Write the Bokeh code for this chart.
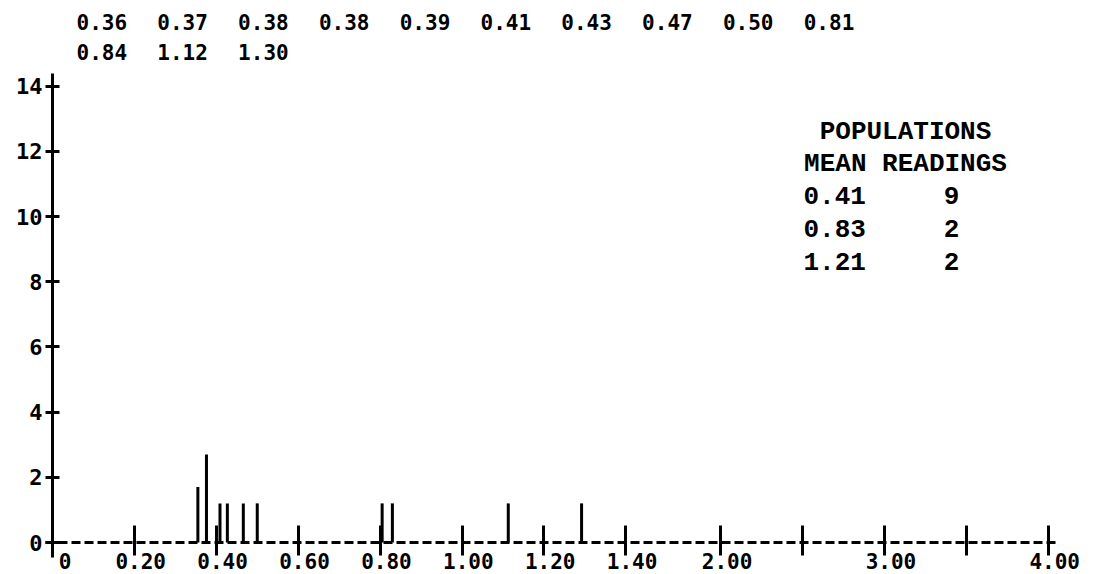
from bokeh.plotting import figure
from bokeh.models import Range1d, FixedTicker
from bokeh.core.properties import value
from bokeh.embed import file_html
from bokeh.resources import INLINE

# ---- data ----
readings = [0.36, 0.37, 0.38, 0.38, 0.39, 0.41, 0.43, 0.47, 0.50, 0.81, 0.84, 1.12, 1.30]
bar_x = [0.355, 0.376, 0.409, 0.427, 0.466, 0.50, 0.805, 0.83, 1.113, 1.292]
bar_h = [1.7, 2.7, 1.2, 1.2, 1.2, 1.2, 1.2, 1.2, 1.2, 1.2]
x_tick_values = [0, 0.2, 0.4, 0.6, 0.8, 1.0, 1.2, 1.4, 2.0, 2.5, 3.0, 3.5, 4.0]
x_tick_labels = ["0", "0.20", "0.40", "0.60", "0.80", "1.00", "1.20", "1.40", "2.00", "", "3.00", "", "4.00"]
y_tick_values = [0, 2, 4, 6, 8, 10, 12, 14]
pop_means = ["0.41", "0.83", "1.21"]
pop_counts = ["9", "2", "2"]

# piecewise (broken) x scale of the original printout
def xpos(v):
    if v <= 1.4:
        return v / 0.2
    if v < 2.0:
        return 7 + (v - 1.4) / 0.6 * 1.16
    return 8.16 + (v - 2.0) / 0.5

# layout helpers (canvas pixel -> data units)
XPX, X0 = 81.9, 52
YPX, Y0 = 32.6, 542
def dx(px):
    return (px - X0) / XPX
def dy(py):
    return (Y0 - py) / YPX

W, H = 1103, 574
p = figure(width=W, height=H, output_backend="svg", toolbar_location=None,
           x_range=Range1d(dx(0), dx(W)), y_range=Range1d(dy(H), dy(0)),
           min_border_left=0, min_border_right=0, min_border_top=0, min_border_bottom=0)
p.grid.visible = False
p.outline_line_color = None
p.background_fill_color = "white"
p.border_fill_color = "white"

MONO = value("DejaVu Sans Mono")

# x axis (dashed, typewriter style)
xa = p.xaxis[0]
xa.fixed_location = 0
xt = [round(xpos(v), 4) for v in x_tick_values]
xa.ticker = FixedTicker(ticks=xt)
ov = {}
for t, lab in zip(xt, x_tick_labels):
    if lab == "0":
        ov[t] = "\u00a0\u00a00"
    elif lab:
        ov[t] = "\u00a0" + lab
    else:
        ov[t] = ""
xa.major_label_overrides = ov
xa.bounds = (dx(45), dx(1056))
xa.axis_line_dash = "9 4"
xa.axis_line_width = 3
xa.axis_line_color = "black"
xa.major_tick_in = 17
xa.major_tick_out = 13
xa.major_tick_line_width = 3
xa.major_tick_line_color = "black"
xa.minor_tick_line_color = None
xa.major_label_standoff = -6
xa.major_label_text_font = "DejaVu Sans Mono"
xa.major_label_text_font_size = "21px"
xa.major_label_text_font_style = "bold"
xa.major_label_text_color = "black"

# y axis
ya = p.yaxis[0]
ya.fixed_location = 0
ya.ticker = FixedTicker(ticks=y_tick_values)
ya.bounds = (dy(557), dy(73))
ya.axis_line_width = 3
ya.axis_line_color = "black"
ya.major_tick_in = 7
ya.major_tick_out = 7
ya.major_tick_line_width = 3
ya.major_tick_line_color = "black"
ya.minor_tick_line_color = None
ya.major_label_standoff = 3
ya.major_label_text_font = "DejaVu Sans Mono"
ya.major_label_text_font_size = "22px"
ya.major_label_text_font_style = "bold"
ya.major_label_text_color = "black"

# bars (spikes)
p.segment(x0=[xpos(v) for v in bar_x], y0=[0] * len(bar_x),
          x1=[xpos(v) for v in bar_x], y1=bar_h,
          line_color="black", line_width=3)

# list of readings printed at top
labels = ["%.2f" % r for r in readings]
row1 = labels[:10]
row2 = labels[10:]
pitch = 80.8
p.text(x=[dx(76 + k * pitch) for k in range(len(row1))], y=[dy(21)] * len(row1), text=row1,
       text_font=MONO, text_font_style="bold", text_font_size="21px",
       text_align="left", text_baseline="middle", text_color="black")
p.text(x=[dx(76 + k * pitch) for k in range(len(row2))], y=[dy(51)] * len(row2), text=row2,
       text_font=MONO, text_font_style="bold", text_font_size="21px",
       text_align="left", text_baseline="middle", text_color="black")

# populations table
LEG = value("Liberation Mono")
p.text(x=[dx(905)], y=[dy(131)], text=["POPULATIONS"], text_font=LEG, text_font_style="bold",
       text_font_size="26px", text_align="center", text_baseline="middle", text_color="black")
p.text(x=[dx(905)], y=[dy(163)], text=["MEAN READINGS"], text_font=LEG, text_font_style="bold",
       text_font_size="26px", text_align="center", text_baseline="middle", text_color="black")
rows_y = [195, 228, 261]
p.text(x=[dx(803)] * 3, y=[dy(v) for v in rows_y], text=pop_means, text_font=LEG, text_font_style="bold",
       text_font_size="26px", text_align="left", text_baseline="middle", text_color="black")
p.text(x=[dx(951)] * 3, y=[dy(v) for v in rows_y], text=pop_counts, text_font=LEG, text_font_style="bold",
       text_font_size="26px", text_align="center", text_baseline="middle", text_color="black")

open("out.html", "w").write(file_html(p, INLINE))
